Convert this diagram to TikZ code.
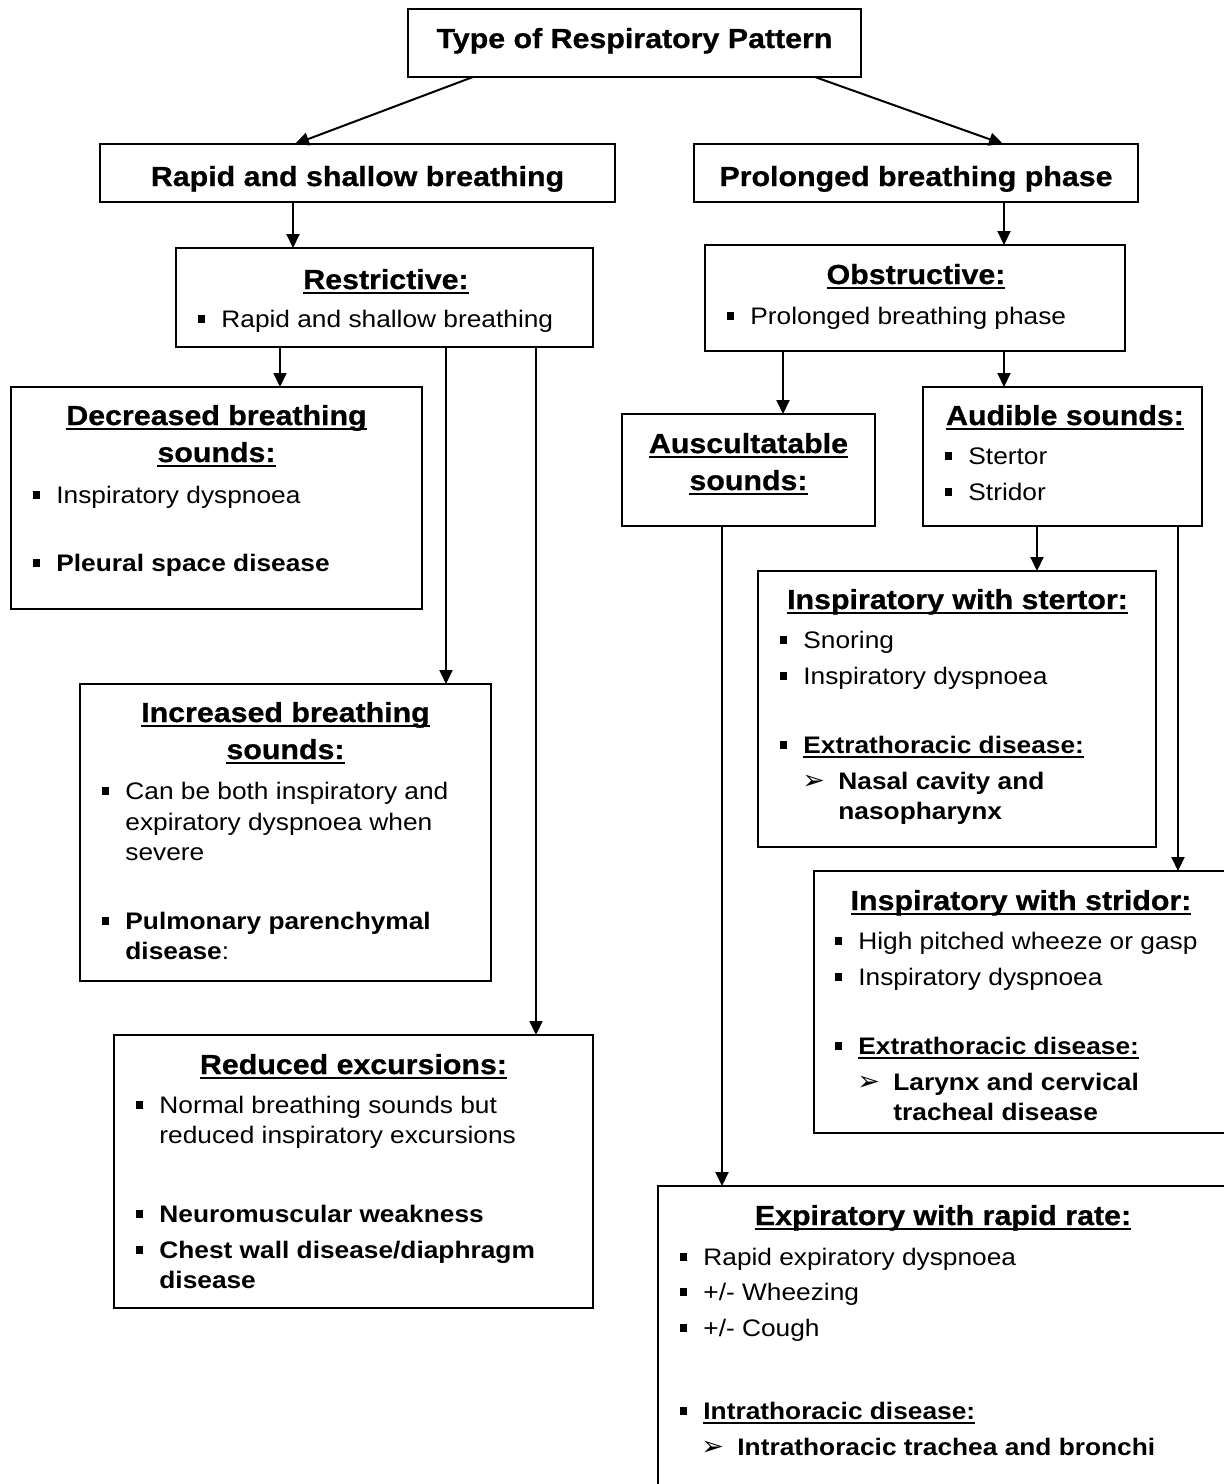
\documentclass[tikz,border=0pt]{standalone}
\usepackage{fontspec}
\setmainfont{Liberation Sans}[FakeStretch=1.1]
\newfontfamily\tfont{Liberation Sans}[FakeStretch=1.1,FakeBold=0.8]
\newfontfamily\djv{DejaVu Sans}
\usetikzlibrary{arrows.meta,fit}
\newcounter{tn}
\newcommand\ulx[1]{\setbox0=\hbox{#1}\rlap{\rule[-2.5pt]{\wd0}{1pt}}\box0}
\newcommand\mybul{\llap{\makebox[11.75pt][l]{\rule[2.2pt]{3.7pt}{3.7pt}}}}
\newcommand\myarw{\llap{\makebox[18pt][l]{\mdseries\djv\fontsize{13.5}{14}\selectfont ➢}}}
\newcommand\Ttl[3]{\stepcounter{tn}\node[ttl] (t\arabic{tn}) at (#1,#2) {#3};}
\newcommand\Bl[3]{\stepcounter{tn}\node[bdy] (t\arabic{tn}) at (#1,#2) {\mybul #3};}
\newcommand\Blb[3]{\stepcounter{tn}\node[bdyb] (t\arabic{tn}) at (#1,#2) {\mybul #3};}
\newcommand\Cl[3]{\stepcounter{tn}\node[bdy] (t\arabic{tn}) at (#1,#2) {#3};}
\newcommand\Clb[3]{\stepcounter{tn}\node[bdyb] (t\arabic{tn}) at (#1,#2) {#3};}
\newcommand\Alb[3]{\stepcounter{tn}\node[bdyb] (t\arabic{tn}) at (#1,#2) {\myarw #3};}
\begin{document}
\begin{tikzpicture}[x=0.5pt,y=-0.5pt,
  box/.style={draw, line width=1pt, inner sep=0pt, outer sep=0pt},
  arr/.style={line width=1pt, -{Triangle[length=7pt,width=6.5pt]}},
  ttl/.style={anchor=base, inner sep=0pt, font=\tfont\bfseries\fontsize{13.8}{16}\selectfont},
  bdy/.style={anchor=base west, inner sep=0pt, font=\fontsize{11.95}{14}\selectfont},
  bdyb/.style={anchor=base west, inner sep=0pt, font=\bfseries\fontsize{11.95}{14}\selectfont}]
\useasboundingbox (0,0) rectangle (1224,1484);
\clip (0,0) rectangle (1224,1484);
% boxes
\node[box, fit={(408,9)(861,77)}] (top) {};
\node[box, fit={(100,144)(615,202)}] (rapid) {};
\node[box, fit={(694,144)(1138,202)}] (prol) {};
\node[box, fit={(176,248)(593,347)}] (rest) {};
\node[box, fit={(705,245)(1125,351)}] (obst) {};
\node[box, fit={(11,387)(422,609)}] (decr) {};
\node[box, fit={(80,684)(491,981)}] (incr) {};
\node[box, fit={(114,1035)(593,1308)}] (redu) {};
\node[box, fit={(622,414)(875,526)}] (ausc) {};
\node[box, fit={(923,387)(1202,526)}] (audi) {};
\node[box, fit={(758,571)(1156,847)}] (ster) {};
\node[box, fit={(814,871)(1240,1133)}] (stri) {};
\node[box, fit={(658,1186)(1240,1500)}] (expi) {};
% x positions of connectors
\coordinate (c473) at (473,0);
\coordinate (c295) at (295,0);
\coordinate (c815) at (815,0);
\coordinate (c1003) at (1003,0);
\coordinate (c293) at (293,0);
\coordinate (c280) at (280,0);
\coordinate (c446) at (446,0);
\coordinate (c536) at (536,0);
\coordinate (c783) at (783,0);
\coordinate (c1004) at (1004,0);
\coordinate (c1037) at (1037,0);
\coordinate (c1178) at (1178,0);
\coordinate (c722) at (722,0);
% connectors
\draw[arr] (top.south -| c473) -- (rapid.north -| c295);
\draw[arr] (top.south -| c815) -- (prol.north -| c1003);
\draw[arr] (rapid.south -| c293) -- (rest.north -| c293);
\draw[arr] (prol.south -| c1004) -- (obst.north -| c1004);
\draw[arr] (rest.south -| c280) -- (decr.north -| c280);
\draw[arr] (rest.south -| c446) -- (incr.north -| c446);
\draw[arr] (rest.south -| c536) -- (redu.north -| c536);
\draw[arr] (obst.south -| c783) -- (ausc.north -| c783);
\draw[arr] (obst.south -| c1004) -- (audi.north -| c1004);
\draw[arr] (audi.south -| c1037) -- (ster.north -| c1037);
\draw[arr] (audi.south -| c1178) -- (stri.north -| c1178);
\draw[arr] (ausc.south -| c722) -- (expi.north -| c722);
% texts
\Ttl{634.5}{48}{Type of Respiratory Pattern}
\Ttl{357.5}{186}{Rapid and shallow breathing}
\Ttl{916}{186}{Prolonged breathing phase}
\Ttl{386}{289}{\ulx{Restrictive:}}
\Bl{221}{327}{Rapid and shallow breathing}
\Ttl{916}{284}{\ulx{Obstructive:}}
\Bl{750}{324}{Prolonged breathing phase}
\Ttl{216.5}{425}{\ulx{Decreased breathing}}
\Ttl{216.5}{462}{\ulx{sounds:}}
\Bl{56}{503}{Inspiratory dyspnoea}
\Blb{56}{571}{Pleural space disease}
\Ttl{285.5}{722}{\ulx{Increased breathing}}
\Ttl{285.5}{759}{\ulx{sounds:}}
\Bl{125}{799}{Can be both inspiratory and}
\Cl{125}{830}{expiratory dyspnoea when}
\Cl{125}{860}{severe}
\Blb{125}{929}{Pulmonary parenchymal}
\Clb{125}{959}{disease{\mdseries:}}
\Ttl{353.5}{1074}{\ulx{Reduced excursions:}}
\Bl{159}{1113}{Normal breathing sounds but}
\Cl{159}{1143}{reduced inspiratory excursions}
\Blb{159}{1222}{Neuromuscular weakness}
\Blb{159}{1258}{Chest wall disease/diaphragm}
\Clb{159}{1288}{disease}
\Ttl{748.5}{453}{\ulx{Auscultatable}}
\Ttl{748.5}{490}{\ulx{sounds:}}
\Ttl{1065}{425}{\ulx{Audible sounds:}}
\Bl{968}{464}{Stertor}
\Bl{968}{500}{Stridor}
\Ttl{957.5}{609}{\ulx{Inspiratory with stertor:}}
\Bl{803}{648}{Snoring}
\Bl{803}{684}{Inspiratory dyspnoea}
\Blb{803}{753}{\ulx{Extrathoracic disease:}}
\Alb{838}{789}{Nasal cavity and}
\Clb{838}{819}{nasopharynx}
\Ttl{1021}{910}{\ulx{Inspiratory with stridor:}}
\Bl{858}{949}{High pitched wheeze or gasp}
\Bl{858}{985}{Inspiratory dyspnoea}
\Blb{858}{1054}{\ulx{Extrathoracic disease:}}
\Alb{893}{1090}{Larynx and cervical}
\Clb{893}{1120}{tracheal disease}
\Ttl{943}{1225}{\ulx{Expiratory with rapid rate:}}
\Bl{703}{1265}{Rapid expiratory dyspnoea}
\Bl{703}{1300}{+/- Wheezing}
\Bl{703}{1336}{+/- Cough}
\Blb{703}{1419}{\ulx{Intrathoracic disease:}}
\Alb{737}{1455}{Intrathoracic trachea and bronchi}
\end{tikzpicture}
\end{document}
